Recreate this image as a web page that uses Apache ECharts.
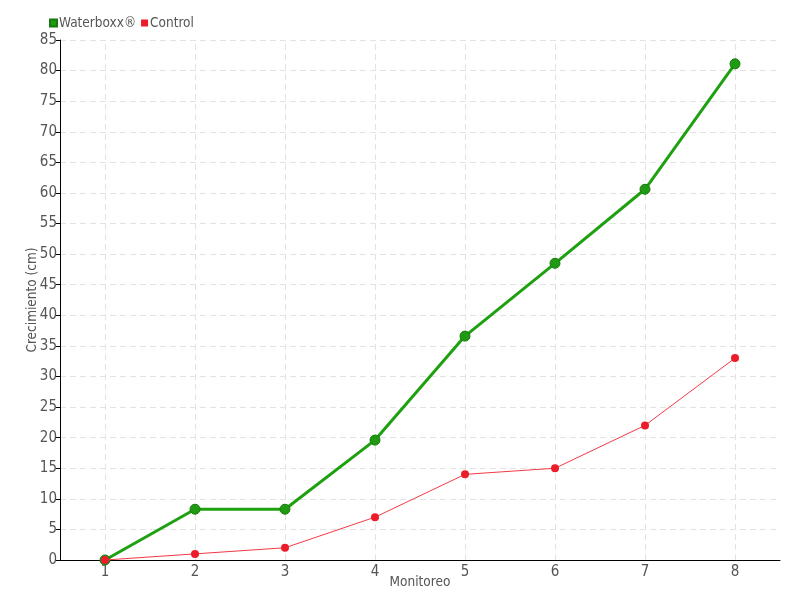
<!DOCTYPE html>
<html><head><meta charset="utf-8">
<script src="https://cdn.jsdelivr.net/npm/echarts@6/dist/echarts.min.js"></script>
<style>html,body{margin:0;padding:0;background:#fff}#c{width:800px;height:600px}</style>
</head><body><div id="c"></div>
<script>
const categories = ['1','2','3','4','5','6','7','8'];
const waterboxx = [0, 8.3, 8.3, 19.6, 36.6, 48.5, 60.6, 81.1];
const control = [0, 1, 2, 7, 14, 15, 22, 33];
const FONT = '"Liberation Sans Narrow", "DejaVu Sans Condensed", sans-serif';
const chart = echarts.init(document.getElementById('c'));
chart.setOption({
  animation: false,
  textStyle: {fontFamily: FONT},
  legend: {
    left: 44, top: 11, itemWidth: 7, itemHeight: 7, itemGap: 5,
    textStyle: {fontFamily: FONT, fontSize: 13.5, color: '#555', padding: [0,0,0,-3]},
    data: [{name: 'Waterboxx®', icon: 'rect'}, {name: 'Control', icon: 'rect'}]
  },
  grid: {left: 60, right: 20, top: 40, bottom: 40, outerBoundsMode: 'none', containLabel: false},
  xAxis: {
    type: 'category', data: categories, boundaryGap: true,
    name: 'Monitoreo', nameLocation: 'middle', nameGap: 15, nameMoveOverlap: false,
    nameTextStyle: {fontFamily: FONT, fontSize: 13.5, color: '#555'},
    axisLine: {lineStyle: {color: '#000', width: 1}},
    axisTick: {alignWithLabel: true, length: 5, lineStyle: {color: '#000'}},
    axisLabel: {fontFamily: FONT, fontSize: 15, color: '#555', margin: 5},
    splitLine: {show: false}
  },
  yAxis: {
    type: 'value', min: 0, max: 85, interval: 5,
    name: 'Crecimiento (cm)', nameLocation: 'middle', nameGap: 21, nameMoveOverlap: false,
    nameTextStyle: {fontFamily: FONT, fontSize: 13.5, color: '#555'},
    axisLine: {show: true, lineStyle: {color: '#000', width: 1}},
    axisTick: {show: true, length: 4, lineStyle: {color: '#000'}},
    axisLabel: {fontFamily: FONT, fontSize: 15, color: '#555', margin: 3},
    splitLine: {show: true, lineStyle: {type: [6,4], color: '#e3e3e3'}}
  },
  series: [
    {
      name: 'gridlines', type: 'line', data: [], z: 0, silent: true,
      markLine: {
        z: 0, silent: true, symbol: 'none', animation: false,
        label: {show: false},
        emphasis: {disabled: true},
        lineStyle: {type: [6,4], color: '#e3e3e3', width: 1},
        data: categories.map(c => ({xAxis: c}))
      }
    },
    {
      name: 'Waterboxx®', type: 'line', data: waterboxx, z: 3,
      symbol: 'circle', symbolSize: 10,
      lineStyle: {color: '#1fa010', width: 3},
      itemStyle: {color: '#1f9a12', borderColor: '#177a0d', borderWidth: 1}
    },
    {
      name: 'Control', type: 'line', data: control, z: 4,
      symbol: 'circle', symbolSize: 8,
      lineStyle: {color: '#f23a44', width: 1},
      itemStyle: {color: '#ec1c2a', borderColor: '#ec1c2a', borderWidth: 0}
    }
  ]
});
</script></body></html>
